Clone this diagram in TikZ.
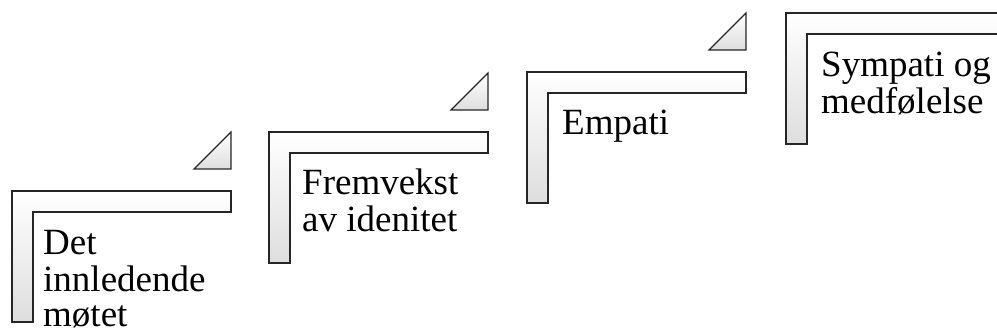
\documentclass[tikz,border=0pt]{standalone}
\usepackage{fontspec}
\setmainfont{Liberation Serif}
\newcommand{\steplines}[1]{\begin{tabular}[t]{@{}l@{}}#1\end{tabular}}
\begin{document}
\begin{tikzpicture}[x=1pt,y=-1pt,
  stair/.style={draw=black!85, line width=1.2pt, top color=white, bottom color=black!13},
  steplabel/.style={anchor=base west, inner sep=0pt,
    font=\fontsize{37}{35.5}\selectfont}]
\useasboundingbox (0,0) rectangle (997,336);
\foreach \x/\y in {12/191, 269/132, 527/72, 786/13} {
  \path[stair] (\x,\y) -- ++(219,0) -- ++(0,21) -- ++(-198,0) -- ++(0,110) -- ++(-21,0) -- cycle;
  \path[stair] (\x+219,\y-22) -- ++(0,-37) -- ++(-37,37) -- cycle;
}
\node[steplabel] (t1) at (43,255) {\steplines{Det\\innledende\\møtet}};
\node[steplabel] (t2) at (302,195) {\steplines{Fremvekst\\av idenitet}};
\node[steplabel] (t3) at (562,135) {\steplines{Empati}};
\node[steplabel] (t4) at (821,77) {\steplines{Sympati og\\medfølelse}};
\end{tikzpicture}
\end{document}
